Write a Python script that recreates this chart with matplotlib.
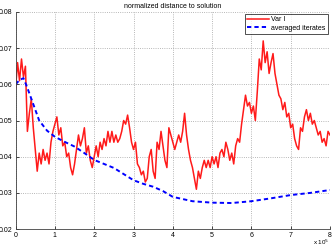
import numpy as np
import matplotlib
matplotlib.use('Agg')
import matplotlib.pyplot as plt

plt.rcParams['font.family'] = ['Liberation Sans', 'DejaVu Sans']

# red curve, sampled every 0.05 (units of 1e5)
var_x = np.arange(161) * 0.05
var_y = [0.059, 0.066, 0.061, 0.067, 0.062, 0.065, 0.047, 0.052, 0.056, 0.048,
         0.042, 0.036, 0.041, 0.038, 0.042, 0.039, 0.041, 0.038, 0.044, 0.047,
         0.049, 0.051, 0.046, 0.048, 0.043, 0.044, 0.040, 0.041, 0.037, 0.035,
         0.038, 0.042, 0.046, 0.043, 0.045, 0.048, 0.041, 0.043, 0.039, 0.037,
         0.040, 0.043, 0.040, 0.044, 0.042, 0.045, 0.043, 0.047, 0.044, 0.047,
         0.044, 0.046, 0.044, 0.045, 0.047, 0.050, 0.049, 0.0515, 0.048, 0.044,
         0.042, 0.044, 0.038, 0.037, 0.035, 0.036, 0.033, 0.034, 0.040, 0.042,
         0.036, 0.034, 0.044, 0.042, 0.047, 0.043, 0.039, 0.037, 0.048, 0.046,
         0.044, 0.042, 0.044, 0.046, 0.044, 0.047, 0.052, 0.046, 0.042, 0.039,
         0.037, 0.034, 0.031, 0.036, 0.034, 0.037, 0.039, 0.037, 0.039, 0.037,
         0.040, 0.038, 0.040, 0.037, 0.041, 0.042, 0.040, 0.044, 0.042, 0.039,
         0.041, 0.038, 0.043, 0.045, 0.044, 0.049, 0.053, 0.057, 0.054, 0.055,
         0.052, 0.054, 0.050, 0.058, 0.067, 0.064, 0.072, 0.066, 0.069, 0.063,
         0.066, 0.0685, 0.063, 0.060, 0.057, 0.056, 0.053, 0.055, 0.051, 0.052,
         0.048, 0.049, 0.045, 0.043, 0.042, 0.048, 0.047, 0.051, 0.053, 0.050,
         0.052, 0.049, 0.050, 0.048, 0.046, 0.047, 0.044, 0.045, 0.043, 0.047,
         0.046]

# averaged iterates
avg_x = [0, 0.1, 0.2, 0.3, 0.4, 0.5, 0.6, 0.8, 1.0, 1.25, 1.5, 1.75, 2.0, 2.25,
         2.5, 2.75, 3.0, 3.25, 3.5, 3.75, 4.0, 4.5, 5.0, 5.5, 6.0, 6.5, 7.0, 7.5, 8.0]
avg_y = [0.0600, 0.0612, 0.0617, 0.0590, 0.0560, 0.0530, 0.0500, 0.0472, 0.0455,
         0.0441, 0.0428, 0.0410, 0.0391, 0.0380, 0.0369, 0.0352, 0.0335, 0.0325,
         0.0317, 0.0305, 0.0289, 0.0277, 0.0273, 0.0272, 0.0277, 0.0285, 0.0294,
         0.0300, 0.0308]

fig = plt.figure(figsize=(3.32, 2.49), dpi=100)
ax = fig.add_axes([0.047, 0.08, 0.947, 0.872])

ax.plot(var_x, var_y, color='#ff1a1a', lw=1.1, label='Var I')
ax.plot(avg_x, avg_y, color='#0000ff', lw=1.4, ls=(0, (2.2, 1.6)), label='averaged iterates')

ax.set_xlim(0, 8)
ax.set_ylim(0.02, 0.08)
ax.set_xticks(range(9))
ax.set_yticks([0.02, 0.03, 0.04, 0.05, 0.06, 0.07, 0.08])
ax.set_yticklabels(['0.02', '0.03', '0.04', '0.05', '0.06', '0.07', '0.08'])
ax.grid(True, ls=':', color='#a0a0a0', lw=0.6)
ax.tick_params(direction='in', length=2.5, width=0.5, labelsize=5, pad=2)
for s in ['top', 'right']:
    ax.spines[s].set_visible(False)
for s in ['left', 'bottom']:
    ax.spines[s].set_color('#404040')
    ax.spines[s].set_linewidth(0.6)

ax.set_title('normalized distance to solution', fontsize=5, pad=3)
leg = ax.legend(loc='upper right', fontsize=5, frameon=True, fancybox=False,
                edgecolor='black', handlelength=3.2, borderpad=0.3,
                labelspacing=0.2, handletextpad=0.3, borderaxespad=0.3)
leg.get_frame().set_linewidth(0.6)

fig.text(0.992, 0.008, r'x 10$^{5}$', fontsize=4.5, ha='right', va='bottom')

fig.savefig('out.png', dpi=100)
